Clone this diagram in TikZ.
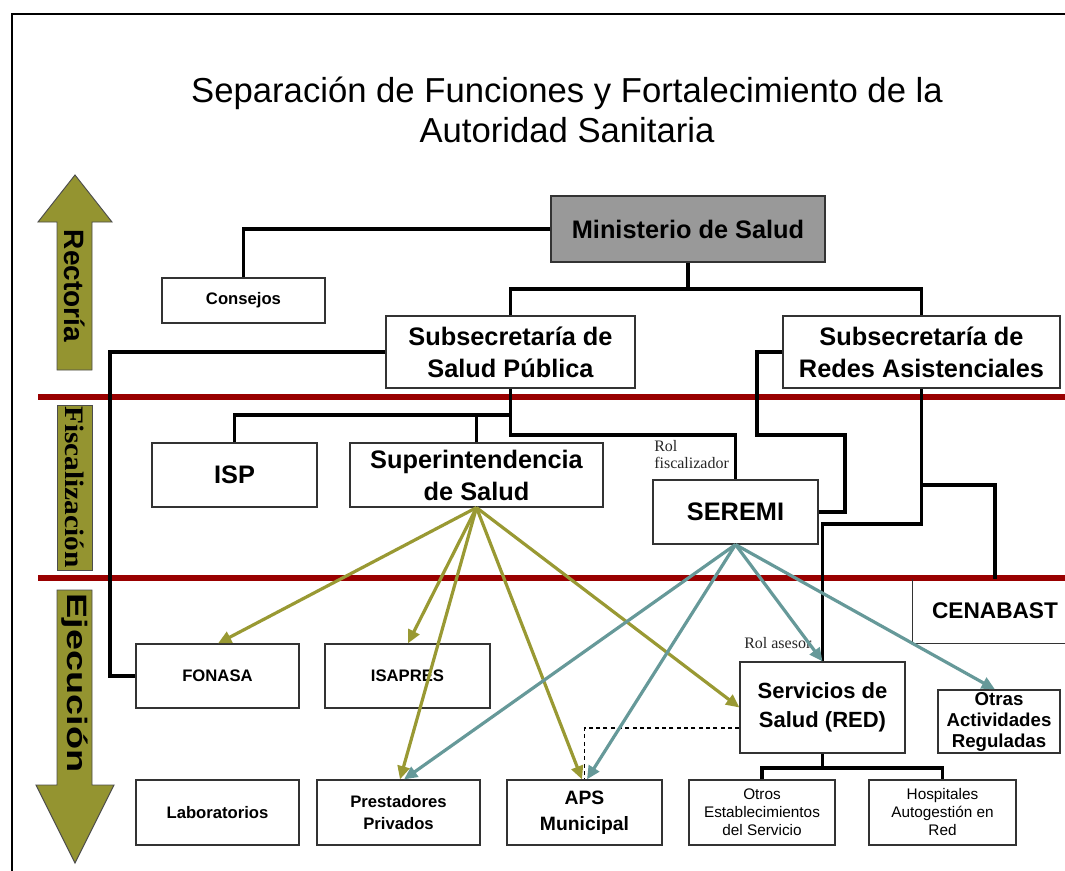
\documentclass[tikz,border=0pt]{standalone}
\usepackage{fontspec}
\setmainfont{Liberation Sans}
\newfontfamily\seriff{Liberation Serif}
\usetikzlibrary{arrows.meta,calc}
\definecolor{olv}{RGB}{153,153,51}
\definecolor{olvfill}{RGB}{148,148,48}
\definecolor{tea}{RGB}{102,153,153}
\definecolor{dred}{RGB}{153,0,0}
\definecolor{mgray}{RGB}{153,153,153}
\newcommand{\mybox}[6][]{\node[box,#1,minimum width={(#4-#3)*0.75pt},minimum height={(#6-#5)*0.75pt}] (#2) at ({(#3+#4)/2},{(#5+#6)/2})}
\begin{document}
\begin{tikzpicture}[x=0.75pt,y=-0.75pt,
  box/.style={draw=black!80,line width=0.9pt,fill=white,inner sep=0pt,align=center},
  fbig/.style={font=\bfseries\fontsize{19}{24}\selectfont},
  fmid/.style={font=\bfseries\fontsize{16.5}{22}\selectfont},
  fsml/.style={font=\bfseries\fontsize{12.5}{16}\selectfont},
  fthin/.style={font=\fontsize{11.5}{13.5}\selectfont},
  conn/.style={line width=2.6pt,line join=miter},
  redline/.style={line width=4.5pt,dred},
  oarr/.style={line width=2.4pt,olv,-{Triangle[length=10pt,width=9pt]}},
  tarr/.style={line width=2.4pt,tea,-{Triangle[length=10pt,width=9pt]}},
  sidearrow/.style={fill=olvfill,draw=black!70,line width=0.7pt},
  lbl/.style={font=\seriff\fontsize{12}{12.75}\selectfont,text=black!85,inner sep=0pt}]
\useasboundingbox (0,0) rectangle (1065,871);
% frame
\draw[line width=2.2pt] (12,871) -- (12,14) -- (1065,14);
% title
\node[font=\fontsize{26}{30}\selectfont,align=center] (title) at (567,110) {Separación de Funciones y Fortalecimiento de la\\Autoridad Sanitaria};
% red separator lines
\draw[redline] (38,397) -- (1065,397);
\draw[redline] (38,578) -- (1065,578);
% side arrows
\draw[sidearrow] (75,175) -- (112,222) -- (92,222) -- (92,370) -- (57,370) -- (57,222) -- (38,222) -- cycle;
\node[rotate=-90,font=\bfseries\fontsize{21}{21}\selectfont] (rect) at (75,286) {Rectoría};
\draw[sidearrow] (57,405) rectangle (92,570);
\node[rotate=-90,font=\seriff\bfseries\fontsize{20}{20}\selectfont] (fisc) at (75,487) {\scalebox{1.1}[1]{Fiscalización}};
\draw[sidearrow] (57,590) -- (92,590) -- (92,785) -- (114,785) -- (75,863) -- (36,785) -- (57,785) -- cycle;
\node[rotate=-90,font=\bfseries\fontsize{21}{21}\selectfont] (ejec) at (75,683) {\scalebox{1.35}[1]{Ejecución}};
% boxes
\mybox[fill=mgray,fbig]{min}{551}{825}{196}{262}{Ministerio de Salud};
\mybox[fsml]{con}{162}{325}{278}{323}{Consejos};
\mybox[fbig]{ssp}{386}{635}{316}{388}{Subsecretaría de\\Salud Pública};
\mybox[fbig]{sra}{783}{1060}{316}{388}{Subsecretaría de\\Redes Asistenciales};
\mybox[fbig]{isp}{152}{317}{443}{507}{ISP};
\mybox[fbig]{sup}{350}{603}{443}{507}{Superintendencia\\de Salud};
\mybox[fbig]{sem}{653}{818}{480}{544}{SEREMI};
\node[inner sep=0pt,font=\bfseries\fontsize{17}{20}\selectfont,minimum width={(1077-913)*0.75pt},minimum height={(643-579)*0.75pt}] (cen) at (995,611) {CENABAST};
\draw[draw=black!80,line width=0.9pt] (cen.north west) -- (cen.south west) -- (cen.south west -| 1065,0);
\mybox[fsml]{fon}{136}{299}{644}{708}{FONASA};
\mybox[fsml]{isa}{325}{490}{644}{708}{ISAPRES};
\mybox[fmid]{ser}{740}{905}{662}{753}{Servicios de\\Salud (RED)};
\mybox[font=\bfseries\fontsize{14}{15.75}\selectfont]{otr}{938}{1060}{690}{753}{Otras\\Actividades\\Reguladas};
\mybox[fsml]{lab}{136}{299}{780}{845}{Laboratorios};
\mybox[fsml]{pre}{317}{480}{780}{845}{Prestadores\\Privados};
\mybox[font=\bfseries\fontsize{14.5}{19.5}\selectfont]{aps}{507}{662}{780}{845}{APS\\Municipal};
\mybox[fthin]{oes}{689}{835}{780}{845}{Otros\\Establecimientos\\del Servicio};
\mybox[fthin]{hos}{869}{1016}{780}{845}{Hospitales\\Autogestión en\\Red};
% labels
\node[lbl,anchor=north west,align=left] (rolf) at (654,440) {Rol\\fiscalizador};
\node[lbl,anchor=west] (rola) at (744,643) {Rol\ asesor};
% black connectors
\draw[conn] (min.west) -| (con.north);
\coordinate (j1) at (min.south |- 0,289);
\draw[conn] (min.south) -- (j1);
\draw[conn] (ssp.north) |- (j1) -| (sra.north);
\draw[conn] (ssp.west) -| (110,0 |- fon.west) -- (fon.west);
\coordinate (j2) at (ssp.south |- 0,415);
\draw[conn] (isp.north) |- (j2) -- (ssp.south);
\draw[conn] (sup.north) -- (sup.north |- j2);
\draw[conn] (j2) -- (ssp.south |- 0,435) -| (sem.north);
\draw[conn] (sra.west) -| (757,435) -| (845,0 |- sem.east) -- (sem.east);
\draw[conn] (sra.south) |- (ser.north |- 0,524) -- (ser.north);
\draw[conn] (sra.south |- 0,485) -| (cen.north);
\coordinate (j3) at (ser.south |- 0,768);
\draw[conn] (ser.south) -- (j3);
\draw[conn] (oes.north) |- (j3) -| (hos.north);
% dashed link
\draw[line width=0.8pt,dash pattern=on 3pt off 2.5pt] (ser.west |- 0,728) -| (aps.north);
% olive arrows
\draw[oarr] (sup.south) -- (218,0 |- fon.north);
\draw[oarr] (sup.south) -- (408,0 |- isa.north);
\draw[oarr] (sup.south) -- (400,0 |- pre.north);
\draw[oarr] (sup.south) -- (582,0 |- aps.north);
\draw[oarr] (sup.south) -- (ser.west);
% teal arrows
\draw[tarr] (sem.south) -- (404,0 |- pre.north);
\draw[tarr] (sem.south) -- (587,0 |- aps.north);
\draw[tarr] (sem.south) -- (ser.north);
\draw[tarr] (sem.south) -- (995,0 |- otr.north);
\end{tikzpicture}
\end{document}
